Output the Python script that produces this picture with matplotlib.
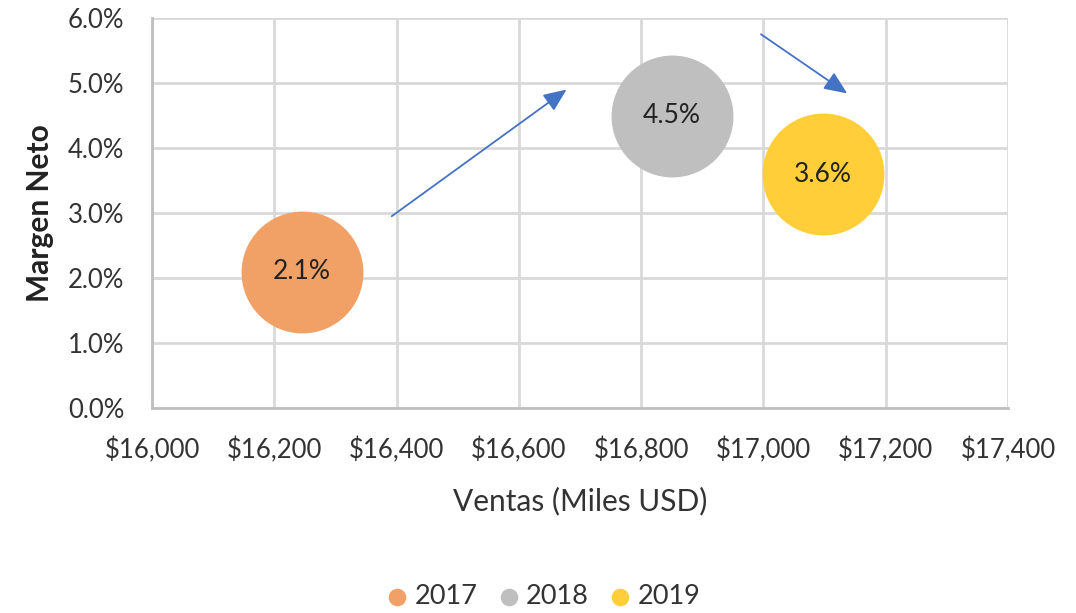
import matplotlib.pyplot as plt
from matplotlib.ticker import FuncFormatter

# data
years = ['2017', '2018', '2019']
ventas = [16245, 16850, 17098]        # Miles USD
margen = [2.1, 4.5, 3.6]              # %
labels = ['2.1%', '4.5%', '3.6%']
colors = ['#F1A165', '#BFBFBF', '#FFCE38']

# trend arrows (start, end) in data coords
arrow_starts = [(16392, 2.95), (16996, 5.75)]
arrow_ends = [(16678, 4.90), (17137, 4.84)]

x_ticks = [16000, 16200, 16400, 16600, 16800, 17000, 17200, 17400]
y_ticks = [0, 1, 2, 3, 4, 5, 6]

plt.rcParams['font.family'] = ['Lato', 'DejaVu Sans']

fig = plt.figure(figsize=(10.76, 6.13), dpi=100)
ax = fig.add_axes([0.1413, 0.3344, 0.7955, 0.6362])

bubble_s = 7700  # marker area, roughly the same for all three
for x, y, c, yr, lab in zip(ventas, margen, colors, years, labels):
    ax.scatter(x, y, s=bubble_s, color=c, label=yr, zorder=3, linewidths=0)
    ax.text(x, y, lab, ha='center', va='center', fontsize=19, color='#222222', zorder=4)

for (x0, y0), (x1, y1) in zip(arrow_starts, arrow_ends):
    ax.annotate('', xy=(x1, y1), xytext=(x0, y0),
                arrowprops=dict(arrowstyle='-|>,head_length=1.4,head_width=0.6',
                                color='#4472C4', lw=1.3, shrinkA=0, shrinkB=0),
                zorder=5)

ax.set_xlim(16000, 17400)
ax.set_ylim(0, 6)
ax.set_xticks(x_ticks)
ax.set_yticks(y_ticks)
ax.xaxis.set_major_formatter(FuncFormatter(lambda v, p: '${:,.0f}'.format(v)))
ax.yaxis.set_major_formatter(FuncFormatter(lambda v, p: '{:.1f}%'.format(v)))
ax.tick_params(length=0, labelsize=18.5, labelcolor='#333333')
ax.tick_params(axis='x', pad=21)
ax.tick_params(axis='y', pad=20)

ax.grid(True, color='#D9D9D9', lw=2, zorder=0)
ax.set_axisbelow(True)
for side in ['top', 'right']:
    ax.spines[side].set_visible(False)
for side in ['left', 'bottom']:
    ax.spines[side].set_color('#BFBFBF')
    ax.spines[side].set_linewidth(2)

ax.set_xlabel('Ventas (Miles USD)', fontsize=21.5, color='#333333', labelpad=17)
ax.set_ylabel('Margen Neto', fontsize=21.5, fontweight='bold', color='#222222', labelpad=10)

leg = fig.legend(loc='center', bbox_to_anchor=(0.505, 0.027), ncol=3, frameon=False,
                 fontsize=19.5, handlelength=0.8, handletextpad=0.25, columnspacing=0.75,
                 labelcolor='#333333')
for h in leg.legend_handles:
    h.set_sizes([160])

fig.savefig('out.png', dpi=100)
